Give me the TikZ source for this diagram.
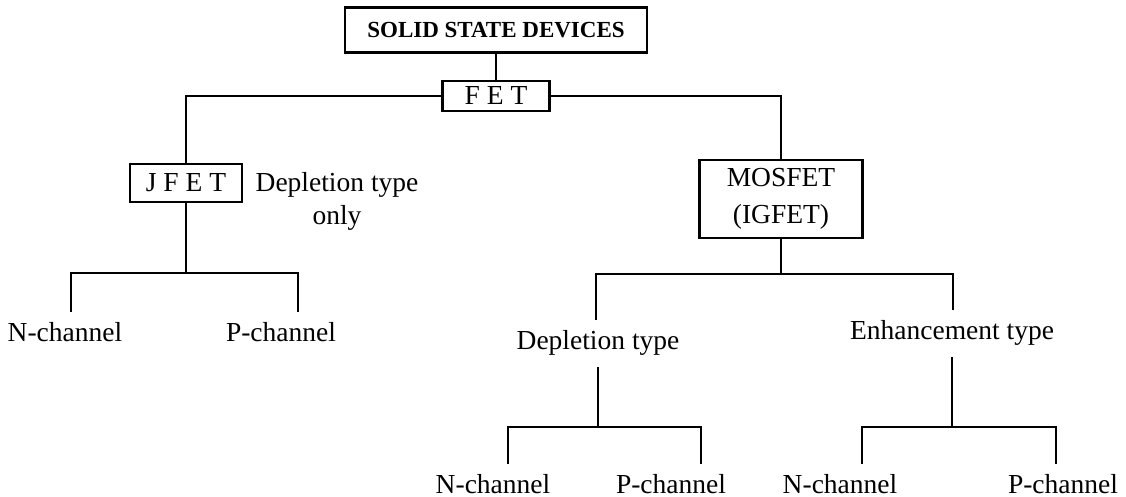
\documentclass[tikz,border=0pt]{standalone}
\usepackage{fontspec}
\setmainfont{Liberation Serif}
\usepackage{tikz}
\usetikzlibrary{positioning}

\tikzset{
	devbox/.style={draw, line width=0.9pt, inner sep=0pt, font=\fontsize{11}{13.2}\selectfont},
	branch/.style={inner xsep=0pt, inner ysep=4pt, anchor=base, font=\fontsize{11}{13.2}\selectfont}
}

\begin{document}
\begin{tikzpicture}[x=0.4pt, y=-0.4pt, line width=0.9pt]
	\useasboundingbox (0,0) rectangle (1126,497);
	% boxes
	\node[devbox, minimum width=120.8pt, minimum height=18pt, font=\fontsize{9.2}{11}\selectfont\bfseries] (ssd) at (496,30) {SOLID STATE DEVICES};
	\node[devbox, minimum width=42.8pt, minimum height=12pt] (fet) at (496,96) {F E T};
	\node[devbox, minimum width=44.8pt, minimum height=15.2pt] (jfet) at (186,183) {J F E T};
	\node[devbox, align=center, minimum width=65.2pt, minimum height=31.2pt, font=\fontsize{11}{14.8}\selectfont] (mosfet) at (781,199) {MOSFET\\(IGFET)};
	\node[branch, anchor=center, align=center, inner ysep=0pt] (jnote) at (337,201) {Depletion type\\only};
	% JFET branches
	\node[branch] (jn) at (65,342) {N-channel};
	\node[branch] (jp) at (281,342) {P-channel};
	% MOSFET branches
	\node[branch] (dep) at (598,350) {Depletion type};
	\node[branch] (enh) at (952,340) {Enhancement type};
	\node[branch] (dn) at (493,494) {N-channel};
	\node[branch] (dp) at (671,494) {P-channel};
	\node[branch] (en) at (840,494) {N-channel};
	\node[branch] (ep) at (1063,494) {P-channel};
	% bus points
	\coordinate (jl) at (71,273);
	\coordinate (jr) at (298,273);
	\coordinate (ml) at (596,274);
	\coordinate (mr) at (953,274);
	\coordinate (dl) at (508,427);
	\coordinate (dr) at (701,427);
	\coordinate (el) at (862,427);
	\coordinate (er) at (1056,427);
	% connectors
	\draw (ssd) -- (fet);
	\draw (fet.west) -| (jfet.north);
	\draw (fet.east) -| (mosfet.north);
	\draw (jfet) -- (jfet |- jl);
	\draw (jl |- jn.north) -- (jl) -- (jr) -- (jr |- jp.north);
	\draw (mosfet) -- (mosfet |- ml);
	\draw (ml |- dep.north) -- (ml) -- (mr) -- (mr |- enh.north);
	\draw (dep.south) -- (dep.south |- dl);
	\draw (dl |- dn.north) -- (dl) -- (dr) -- (dr |- dp.north);
	\draw (enh.south) -- (enh.south |- el);
	\draw (el |- en.north) -- (el) -- (er) -- (er |- ep.north);
\end{tikzpicture}
\end{document}
